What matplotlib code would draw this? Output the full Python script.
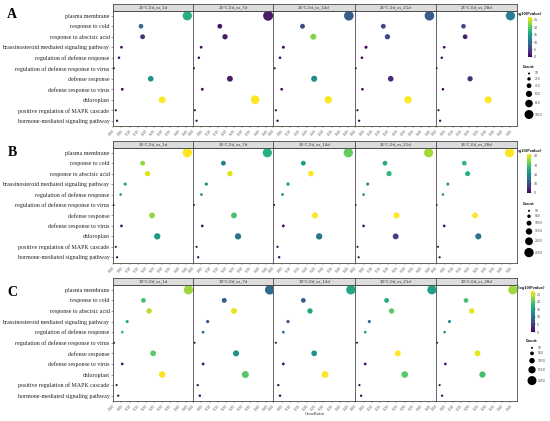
import matplotlib
matplotlib.use('Agg')
import matplotlib.pyplot as plt
import numpy as np
from matplotlib.colors import Normalize
from matplotlib.cm import ScalarMappable

W, H = 550, 421
fig = plt.figure(figsize=(5.5, 4.21), dpi=100)
SERIF = ['Liberation Serif', 'DejaVu Serif']

terms = ["plasma membrane", "response to cold", "response to abscisic acid",
         "brassinosteroid mediated signaling pathway", "regulation of defense response",
         "regulation of defense response to virus", "defense response",
         "defense response to virus", "chloroplast",
         "positive regulation of MAPK cascade", "hormone-mediated signaling pathway"]
times = ["1d", "7d", "14d", "21d", "28d"]
temps = ["25°C", "15°C", "10°C"]
panel_letters = ["A", "B", "C"]

# GeneRatio per facet (rows follow `terms`)
ratio_A = [[.455, .17, .18, .05, .035, .003, .23, .055, .30, .015, .023],
           [.46, .163, .195, .048, .034, .004, .225, .055, .38, .01, .02],
           [.453, .175, .24, .06, .04, .008, .245, .05, .33, .015, .025],
           [.45, .17, .195, .065, .04, .003, .215, .043, .32, .013, .023],
           [.45, .165, .175, .048, .033, .002, .205, .04, .315, .013, .023]]
count_A = [[1050, 392, 415, 115, 81, 7, 530, 127, 692, 35, 53],
           [1150, 408, 488, 120, 85, 10, 563, 137, 950, 25, 50],
           [1100, 425, 583, 146, 97, 19, 595, 121, 800, 36, 61],
           [1100, 416, 477, 159, 98, 7, 526, 105, 782, 32, 56],
           [1050, 385, 408, 112, 77, 5, 478, 93, 735, 30, 54]]
pval_A = [[17, 9, 4, .6, .4, 0, 14, .6, 27, .2, .3],
          [2, 1.5, 2, .5, .3, 0, 2, .5, 27, .2, .3],
          [8, 6, 22, .6, .4, 0, 13, .5, 27, .2, .3],
          [8, 6, 6, .5, .3, 0, 3, .4, 27, .2, .3],
          [12, 6, 2.5, .5, .3, 0, 4, .4, 27, .2, .3]]

ratio_B = [[.455, .18, .21, .073, .045, .002, .238, .05, .27, .015, .023],
           [.455, .185, .225, .08, .05, .004, .25, .055, .275, .02, .03],
           [.45, .18, .225, .088, .055, .005, .25, .06, .275, .025, .035],
           [.445, .18, .205, .075, .05, .002, .25, .05, .245, .013, .02],
           [.445, .17, .19, .07, .04, .002, .235, .048, .255, .01, .02]]
count_B = [[2600, 1029, 1200, 417, 257, 11, 1360, 286, 1543, 86, 131],
           [2500, 1016, 1236, 440, 275, 22, 1374, 302, 1511, 110, 165],
           [2550, 1020, 1275, 499, 312, 28, 1417, 340, 1558, 142, 198],
           [2500, 1011, 1152, 421, 281, 11, 1404, 281, 1376, 73, 112],
           [2550, 974, 1089, 401, 229, 11, 1347, 275, 1461, 57, 115]]
pval_B = [[42, 35, 40, 23, 21, 0, 35, 1, 23, .5, .5],
          [26, 18, 40, 19, 18, 0, 30, 1, 16, .5, .5],
          [32, 24, 42, 22, 20, 0, 42, 1, 17, .5, .5],
          [36, 26, 28, 20, 20, 0, 42, 1, 8, .5, .5],
          [42, 28, 26, 22, 19, 0, 42, 1, 16, .5, .5]]

ratio_C = [[.462, .185, .22, .085, .055, .005, .245, .055, .30, .02, .03],
           [.47, .19, .25, .088, .06, .008, .263, .06, .32, .027, .04],
           [.465, .18, .22, .088, .06, .015, .245, .06, .31, .03, .04],
           [.465, .19, .22, .085, .06, .01, .258, .06, .30, .025, .035],
           [.465, .18, .215, .08, .05, .005, .25, .055, .28, .02, .035]]
count_C = [[2100, 841, 1000, 386, 250, 23, 1114, 250, 1364, 91, 136],
           [2200, 889, 1170, 412, 281, 37, 1231, 281, 1498, 126, 187],
           [2150, 832, 1017, 407, 277, 69, 1133, 277, 1433, 139, 185],
           [2100, 858, 994, 384, 271, 45, 1165, 271, 1355, 113, 158],
           [2100, 813, 971, 361, 226, 23, 1129, 248, 1265, 90, 158]]
pval_C = [[23, 19, 24, 17, 18, 0, 20, 1, 27, .5, .5],
          [9, 8, 26, 8, 9, 0, 14, 1, 20, .5, .5],
          [16, 8, 16, 8, 9, 0, 14, 1, 27, .5, .5],
          [15, 17, 20, 9, 16, 0, 27, 1, 20, .5, .5],
          [23, 19, 26, 13, 14, 0, 26, 1, 19, .5, .5]]

legend_A = [10, 210, 410, 610, 810, 1010]
legend_B = [50, 550, 1050, 1550, 2050, 2550]
legend_C = [50, 550, 1050, 1550, 2050]

cbar_max = [27, 42, 27]
cbar_ticks = [[0, 5, 10, 15, 20, 25], [0, 10, 20, 30, 40], [0, 5, 10, 15, 20, 25]]
xticks = [0.00, 0.05, 0.10, 0.15, 0.20, 0.25, 0.30, 0.35, 0.40, 0.45]

ratios = [ratio_A, ratio_B, ratio_C]
counts = [count_A, count_B, count_C]
pvals = [pval_A, pval_B, pval_C]
legends = [legend_A, legend_B, legend_C]

# ---- layout (pixels) ----
facet_x = [113, 193, 273, 355, 436, 517]
strip_top = [4, 141.5, 278]
plot_top = [10.5, 147.5, 284.5]
plot_bot = [126, 262.5, 401]
cbar_rect = [(527.5, 17, 4, 40), (527, 154, 4, 39), (530.5, 291, 4, 41)]
count_title_y = [66.7, 204, 341]
legend_x = [529, 529, 532]
letter_y = [15, 152, 293]
dmax_px = [9, 9.3, 9]
DMIN = 2.0


def px_rect(x0, y0, w, h):
    return [x0 / W, 1 - (y0 + h) / H, w / W, h / H]


def size_pts(c, lo, hi, dmax):
    d = DMIN + (dmax - DMIN) * (np.asarray(c, float) - lo) / (hi - lo)
    d = np.clip(d, 1.3, None)
    return (d * 0.72) ** 2, d


cmap = plt.get_cmap('viridis')
edge = '#4a4a4a'

for p in range(3):
    norm = Normalize(0, cbar_max[p])
    lo, hi = legends[p][0], legends[p][-1]
    for j in range(5):
        x0, x1 = facet_x[j], facet_x[j + 1]
        ax = fig.add_axes(px_rect(x0, plot_top[p], x1 - x0, plot_bot[p] - plot_top[p]))
        s, _ = size_pts(counts[p][j], lo, hi, dmax_px[p])
        ax.scatter(ratios[p][j], np.arange(len(terms)), s=s, c=pvals[p][j],
                   cmap=cmap, norm=norm, linewidths=0, zorder=3)
        ax.set_xlim(-0.002, 0.49)
        ax.set_ylim(len(terms) - 1 + 0.5, -0.5)
        ax.set_xticks(xticks)
        ax.set_xticklabels([f"{t:.2f}" for t in xticks], rotation=45, ha='right',
                           rotation_mode='anchor', fontsize=2.3, color='#555555')
        ax.tick_params(axis='x', length=1.2, width=0.3, pad=0.8, color='#555555')
        ax.set_yticks(np.arange(len(terms)))
        if j == 0:
            ax.set_yticklabels(terms, fontsize=4.35, family=SERIF, color='#222222')
            ax.tick_params(axis='y', length=1.5, width=0.4, pad=1, color='#555555')
        else:
            ax.set_yticklabels([])
            ax.tick_params(axis='y', length=0)
        for sp in ax.spines.values():
            sp.set_color(edge)
            sp.set_linewidth(0.6)
        # strip
        sax = fig.add_axes(px_rect(x0, strip_top[p], x1 - x0, plot_top[p] - strip_top[p]))
        sax.set_facecolor('#dcdcdc')
        sax.set_xticks([]); sax.set_yticks([])
        for sp in sax.spines.values():
            sp.set_color(edge)
            sp.set_linewidth(0.6)
        sax.text(0.5, 0.5, f"{temps[p]}-0d_vs_{times[j]}", ha='center', va='center',
                 fontsize=2.8, color='#333333', transform=sax.transAxes)

    # colorbar
    cx, cy, cw, ch = cbar_rect[p]
    cax = fig.add_axes(px_rect(cx, cy, cw, ch))
    cb = fig.colorbar(ScalarMappable(norm=norm, cmap=cmap), cax=cax)
    cb.set_ticks(cbar_ticks[p])
    cb.ax.tick_params(labelsize=2.3, length=1, width=0.3, pad=0.8, colors='#444444')
    cb.outline.set_visible(False)

# overlay for legends and panel letters (pixel units)
ov = fig.add_axes([0, 0, 1, 1], zorder=-1)
ov.set_xlim(0, W); ov.set_ylim(H, 0); ov.axis('off')
for p in range(3):
    cx, cy, cw, ch = cbar_rect[p]
    ov.text(cx + 1.5, cy - 3, "-log10(Pvalue)", fontsize=2.4, ha='center', va='center',
            color='#222222', fontweight='bold')
    ov.text(12, letter_y[p], panel_letters[p], fontsize=10, fontweight='bold',
            family=SERIF, ha='center', va='center')
    lo, hi = legends[p][0], legends[p][-1]
    s, d = size_pts(legends[p], lo, hi, dmax_px[p])
    ys = [count_title_y[p] + 6.8]
    for i in range(1, len(d)):
        ys.append(ys[-1] + (d[i - 1] + d[i]) / 2 + 2.7)
    ov.text(legend_x[p], count_title_y[p], "Count", fontsize=2.6, ha='center', va='center',
            color='#222222', fontweight='bold')
    ov.scatter(np.full(len(ys), legend_x[p]), ys, s=s, c='black', linewidths=0)
    for y, v in zip(ys, legends[p]):
        ov.text(legend_x[p] + 6, y, str(v), fontsize=2.2, ha='left', va='center', color='#444444')

ov.text((facet_x[0] + facet_x[-1]) / 2, 414, "GeneRatio", fontsize=3.4, family=SERIF,
        ha='center', va='center', color='#333333')

fig.savefig('out.png', dpi=100)
